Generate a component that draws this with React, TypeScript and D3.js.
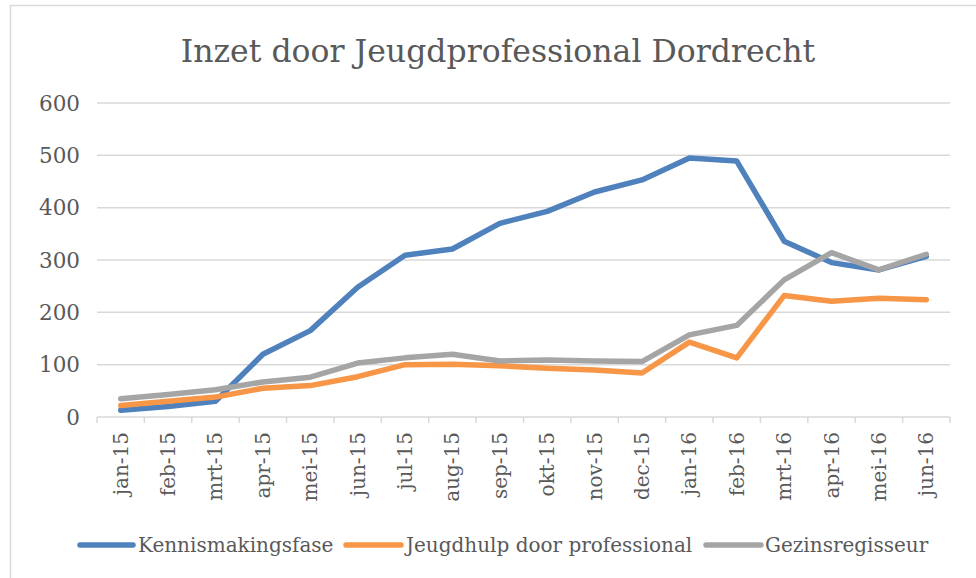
import React from "react";
import * as d3 from "d3";

const title = "Inzet door Jeugdprofessional Dordrecht";
const categories = ["jan-15","feb-15","mrt-15","apr-15","mei-15","jun-15","jul-15","aug-15","sep-15","okt-15","nov-15","dec-15","jan-16","feb-16","mrt-16","apr-16","mei-16","jun-16"];
const kennismakingsfase = [13, 20, 30, 120, 165, 248, 309, 321, 370, 393, 430, 453, 495, 489, 336, 295, 281, 307];
const jeugdhulp = [22, 30, 38, 55, 60, 77, 100, 101, 98, 93, 90, 84, 143, 113, 232, 221, 227, 224];
const gezinsregisseur = [35, 43, 52, 67, 76, 103, 113, 120, 107, 109, 107, 106, 157, 175, 262, 314, 281, 311];
const yTicks = [0, 100, 200, 300, 400, 500, 600];
const seriesNames = ["Kennismakingsfase", "Jeugdhulp door professional", "Gezinsregisseur"];
const seriesColors = ["#4F81BD", "#F79646", "#A5A5A5"];

const W = 976, H = 578;
const left = 97, right = 950, top = 103, bottom = 417;
const FONT = "'DejaVu Serif', serif";
const TEXT = "#595959";
const GRID = "#D9D9D9";

export default function App() {
  const x = d3.scaleBand<string>().domain(categories).range([left, right]);
  const y = d3.scaleLinear().domain([0, 600]).range([bottom, top]);
  const line = d3.line<number>()
    .x((_, i) => (x(categories[i]) as number) + x.bandwidth() / 2)
    .y((d) => y(d));
  const series = [kennismakingsfase, jeugdhulp, gezinsregisseur];
  const tickXs = categories.map((c) => x(c) as number).concat([right]);
  const legendLines = [[80, 133, 138], [346, 401, 406], [706, 761, 765]];

  return (
    <svg width={W} height={H} style={{ position: "absolute", left: 0, top: 0, background: "#fff" }} fontFamily={FONT}>
      <rect x={0} y={0} width={W} height={H} fill="#fff" />
      <rect x={10.5} y={5.5} width={W + 10} height={H + 10} fill="none" stroke={GRID} strokeWidth={1.5} />
      <text x={498} y={62} textAnchor="middle" fontSize={31.5} fill={TEXT}>{title}</text>
      {yTicks.map((t) => (
        <g key={t}>
          {t > 0 && <line x1={left} x2={right} y1={y(t)} y2={y(t)} stroke={GRID} strokeWidth={1.5} />}
          <text x={80} y={y(t)} dy="0.35em" textAnchor="end" fontSize={21.5} fill={TEXT}>{t}</text>
        </g>
      ))}
      <line x1={left} x2={right} y1={bottom} y2={bottom} stroke={GRID} strokeWidth={1.5} />
      {tickXs.map((tx, i) => (
        <line key={i} x1={tx} x2={tx} y1={bottom} y2={bottom + 6} stroke={GRID} strokeWidth={1.5} />
      ))}
      {categories.map((c) => {
        const cx = (x(c) as number) + x.bandwidth() / 2;
        return (
          <text key={c} transform={`translate(${cx},${432}) rotate(-90)`} textAnchor="end" dy="0.35em" fontSize={20} fill={TEXT}>{c}</text>
        );
      })}
      {series.map((s, i) => (
        <path key={i} d={line(s) as string} fill="none" stroke={seriesColors[i]} strokeWidth={5.5} strokeLinejoin="round" strokeLinecap="round" />
      ))}
      {seriesNames.map((n, i) => (
        <g key={n}>
          <line x1={legendLines[i][0]} x2={legendLines[i][1]} y1={545} y2={545} stroke={seriesColors[i]} strokeWidth={5.5} strokeLinecap="round" />
          <text x={legendLines[i][2]} y={545} dy="0.35em" fontSize={20} fill={TEXT}>{n}</text>
        </g>
      ))}
    </svg>
  );
}
